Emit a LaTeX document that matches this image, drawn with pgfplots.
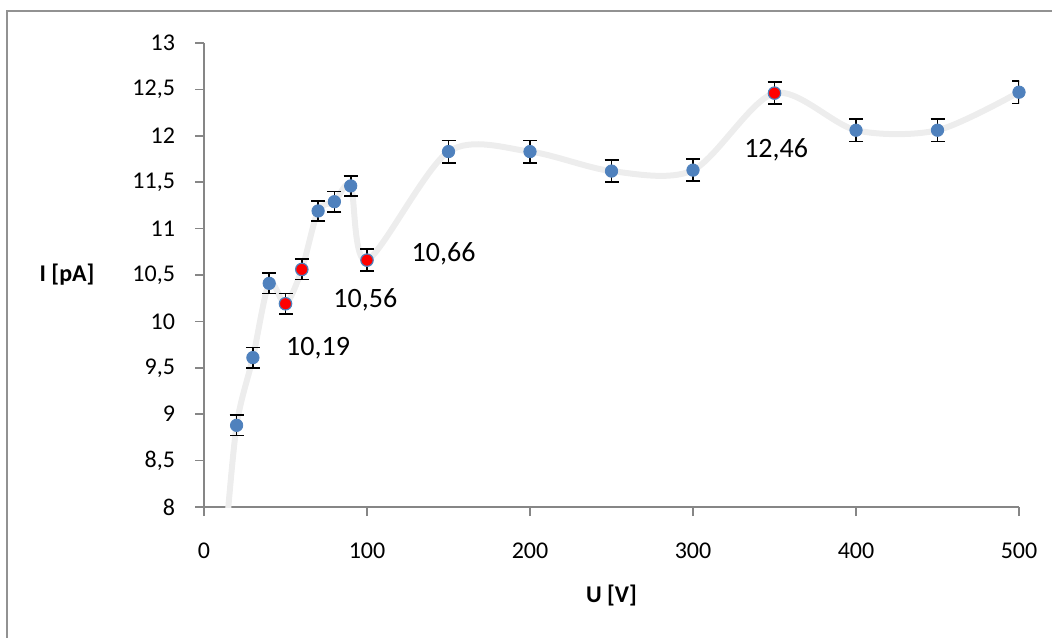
\documentclass[border=0pt]{standalone}
\usepackage{pgfplots}
\pgfplotsset{compat=1.18}
\usepackage{fontspec}
\setmainfont{Carlito}
\definecolor{axgray}{HTML}{868686}
\definecolor{ptblue}{HTML}{4F81BD}
\definecolor{lineg}{HTML}{EDEDED}
\begin{document}
\begin{tikzpicture}
\useasboundingbox (0,0) rectangle (526pt,318.5pt);
\draw[color=axgray!90, line width=1.3pt] (3.5pt,-10pt) -- (3.5pt,313pt) -- (540pt,313pt);
\begin{axis}[
  at={(102pt,65pt)}, anchor=south west,
  scale only axis, width=407.5pt, height=232pt,
  xmin=0, xmax=500, ymin=8, ymax=13,
  axis x line*=bottom, axis y line*=left,
  axis line style={axgray, line width=0.8pt, -},
  xtick={0,100,...,500}, ytick={8,8.5,...,13},
  tick align=outside, major tick length=4.5pt,
  tick style={axgray, line width=0.8pt},
  /pgf/number format/assume math mode=true,
  /pgf/number format/use comma,
  /pgf/number format/.cd, fixed, precision=1,
  /pgfplots/.cd,
  yticklabel style={font=\fontsize{12}{14}\selectfont, xshift=-6.5pt},
  xticklabel style={font=\fontsize{12}{14}\selectfont, yshift=-10pt},
  clip=true,
  xlabel={\bfseries U [V]},
  xlabel style={font=\fontsize{12}{14}\selectfont, yshift=-6pt},
  ylabel={\bfseries I [pA]},
  ylabel style={font=\fontsize{12}{14}\selectfont, rotate=-90, anchor=center, at={(axis description cs:-0.168,0.5)}},
  error bars/error bar style={black, line width=0.8pt},
  error bars/error mark options={black, line width=0.8pt, mark size=3.5pt, rotate=90},
]
\addplot[lineg, line width=3pt, smooth, tension=0.5, mark=none] coordinates {
(13,7.6) (20,8.88) (30,9.61) (40,10.41) (50,10.19) (60,10.56) (70,11.19) (80,11.29) (90,11.46) (100,10.66) (150,11.83) (200,11.83) (250,11.62) (300,11.63) (350,12.46) (400,12.06) (450,12.06) (500,12.47)
};
\addplot[only marks, mark=*, mark size=3.1pt, mark options={draw=ptblue, fill=ptblue},
  error bars/.cd, y dir=both, y explicit] coordinates {
(20,8.88) +- (0,0.11)
(30,9.61) +- (0,0.11)
(40,10.41) +- (0,0.11)
(70,11.19) +- (0,0.11)
(80,11.29) +- (0,0.11)
(90,11.46) +- (0,0.11)
(150,11.83) +- (0,0.12)
(200,11.83) +- (0,0.12)
(250,11.62) +- (0,0.12)
(300,11.63) +- (0,0.12)
(400,12.06) +- (0,0.12)
(450,12.06) +- (0,0.12)
(500,12.47) +- (0,0.12)
};
\addplot[only marks, mark=*, mark size=3.1pt, mark options={draw=ptblue, fill=red, line width=0.6pt},
  error bars/.cd, y dir=both, y explicit] coordinates {
(50,10.19) +- (0,0.11)
(60,10.56) +- (0,0.11)
(100,10.66) +- (0,0.12)
(350,12.46) +- (0,0.12)
};
\node[font=\fontsize{14}{16}\selectfont] at (axis cs:70,9.71) {10,19};
\node[font=\fontsize{14}{16}\selectfont] at (axis cs:99,10.23) {10,56};
\node[font=\fontsize{14}{16}\selectfont] at (axis cs:147,10.73) {10,66};
\node[font=\fontsize{14}{16}\selectfont] at (axis cs:351,11.85) {12,46};
\end{axis}
\end{tikzpicture}
\end{document}
